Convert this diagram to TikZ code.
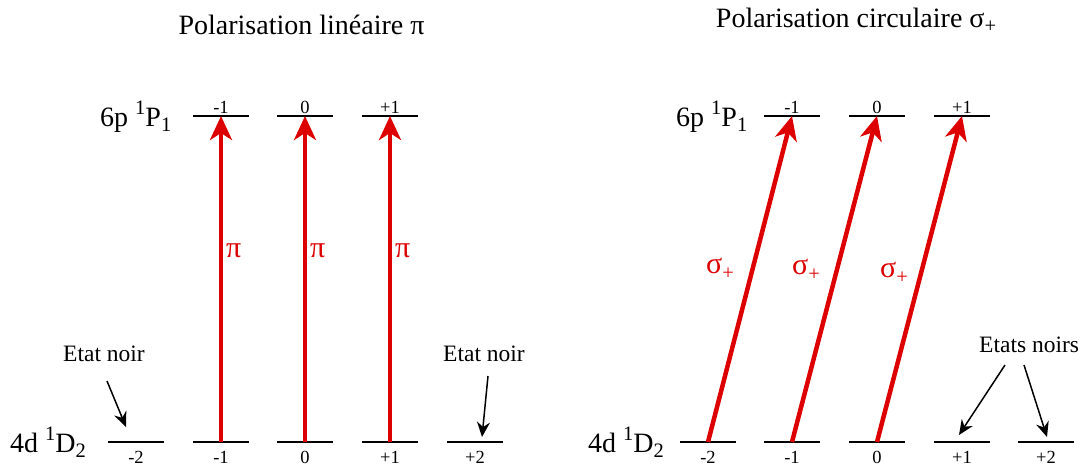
\documentclass[tikz,border=0pt]{standalone}
\usepackage{fontspec}
\setmainfont{Liberation Serif}
\usetikzlibrary{arrows.meta}
\definecolor{laser}{RGB}{221,0,0}
\newcommand\mysup[1]{\raisebox{0.42em}{\fontsize{20.5}{22}\selectfont #1}}
\newcommand\mysub[1]{\raisebox{-0.2em}{\fontsize{20.5}{22}\selectfont #1}}
\begin{document}
\begin{tikzpicture}[x=1pt,y=-1pt,
  lvl/.style={minimum width=56pt,minimum height=0pt,inner sep=0pt,outer sep=0pt},
  lvlline/.style={line width=2pt},
  big/.style={font=\fontsize{28}{32}\selectfont,inner sep=0pt},
  note/.style={font=\fontsize{23.5}{28}\selectfont,inner sep=0pt,anchor=base west},
  num/.style={font=\fontsize{18.5}{20}\selectfont,inner sep=0pt,anchor=base},
  trans/.style={draw=laser,line width=4.5pt,-{Stealth[length=24pt,width=22pt,inset=7pt]}},
  lab/.style={text=laser,font=\fontsize{30}{34}\selectfont,inner sep=0pt,anchor=base west},
  pointer/.style={line width=1.5pt,-{Stealth[length=15pt,width=13pt,inset=5pt]}}]
\useasboundingbox (0,0) rectangle (1087,466);

% titles
\node[big,anchor=base] (titleL) at (301.5,34) {Polarisation linéaire π};
\node[big,anchor=base] (titleR) at (856,27) {Polarisation circulaire σ\mysub{+}};

% state labels
\node[big,anchor=base west] (PL) at (100,126) {6p \mysup{1}P\mysub{1}};
\node[big,anchor=base west] (DL) at (10,452) {4d \mysup{1}D\mysub{2}};
\node[big,anchor=base west] (PR) at (676,126) {6p \mysup{1}P\mysub{1}};
\node[big,anchor=base west] (DR) at (588,452) {4d \mysup{1}D\mysub{2}};

% upper levels
\foreach \n/\x/\t in {uLm1/221/-1, uL0/305/0, uLp1/390/+1, uRm1/792/-1, uR0/877/0, uRp1/962/+1}{
  \node[lvl] (\n) at (\x,116) {};
  \draw[lvlline] (\n.west) -- (\n.east);
  \node[num] (\n t) at (\x,113) {\t};
}
% lower levels
\foreach \n/\x/\t in {lLm2/136/-2, lLm1/221/-1, lL0/305/0, lLp1/390/+1, lLp2/475/+2,
                      lRm2/708/-2, lRm1/792/-1, lR0/877/0, lRp1/962/+1, lRp2/1046/+2}{
  \node[lvl] (\n) at (\x,442) {};
  \draw[lvlline] (\n.west) -- (\n.east);
  \node[num] (\n t) at (\x,463) {\t};
}

% pi transitions
\draw[trans] (lLm1.center) -- (uLm1.center);
\draw[trans] (lL0.center) -- (uL0.center);
\draw[trans] (lLp1.center) -- (uLp1.center);
\node[lab] (pi1) at (226,257) {π};
\node[lab] (pi2) at (310,257) {π};
\node[lab] (pi3) at (395,257) {π};

% sigma+ transitions
\draw[trans] (lRm2.center) -- (uRm1.center);
\draw[trans] (lRm1.center) -- (uR0.center);
\draw[trans] (lR0.center) -- (uRp1.center);
\node[lab] (s1) at (706,273) {σ\mysub{+}};
\node[lab] (s2) at (792,274) {σ\mysub{+}};
\node[lab] (s3) at (880,277) {σ\mysub{+}};

% dark states
\node[note] (darkL) at (63,361) {Etat noir};
\node[note] (darkR) at (443,361) {Etat noir};
\node[note] (darkRR) at (979,352) {Etats noirs};
\coordinate (aL1) at (107,381);
\coordinate (aL2) at (126,427);
\coordinate (aR1) at (488,376);
\coordinate (aR2) at (482,437);
\coordinate (bA1) at (1005,365);
\coordinate (bA2) at (959,435);
\coordinate (bB1) at (1024,365);
\coordinate (bB2) at (1047,437);
\draw[pointer] (aL1) -- (aL2);
\draw[pointer] (aR1) -- (aR2);
\draw[pointer] (bA1) -- (bA2);
\draw[pointer] (bB1) -- (bB2);
\end{tikzpicture}
\end{document}
